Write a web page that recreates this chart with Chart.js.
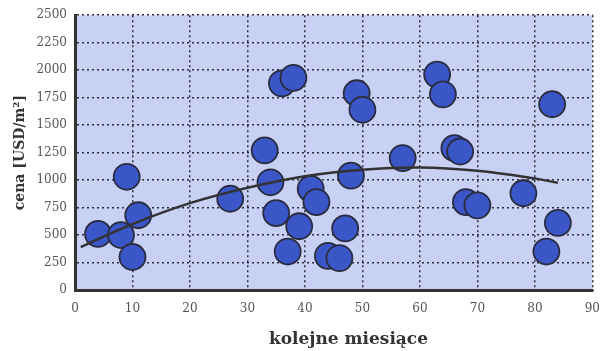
<!DOCTYPE html>
<html>
<head>
<meta charset="utf-8">
<script src="https://cdn.jsdelivr.net/npm/chart.js@4"></script>
<style>
  body { margin: 0; background: #ffffff; }
</style>
</head>
<body>
<canvas id="price-chart" width="612" height="351"></canvas>
<script>
// months and prices of the scattered observations
const months = [4, 8, 9, 10, 11, 27, 33, 34, 35, 36, 37, 38, 39, 41, 42, 44, 46, 47, 48, 49, 50, 57, 63, 64, 66, 67, 68, 70, 78, 82, 83, 84];
const prices = [510, 500, 1030, 300, 680, 830, 1270, 980, 700, 1880, 350, 1930, 580, 920, 800, 310, 290, 560, 1040, 1790, 1640, 1200, 1960, 1780, 1290, 1260, 800, 770, 880, 350, 1690, 610];

// trend curve
const trendMonths = [1, 10, 20, 30, 40, 50, 60, 70, 80, 84];
const trendPrices = [390, 600, 790, 930, 1035, 1095, 1115, 1085, 1015, 975];

const xLabel = "kolejne miesiące";
const yLabel = "cena [USD/m²]";

const toPoints = (xs, ys) => xs.map((x, i) => ({ x: x, y: ys[i] }));

//fill the plot area
const plotBackground = {
    id: "plotBackground",
    beforeDraw: (chart) => {
        const { ctx, chartArea } = chart;
        ctx.save();
        ctx.fillStyle = "#c8d0f4";
        ctx.fillRect(chartArea.left, chartArea.top, chartArea.right - chartArea.left, chartArea.bottom - chartArea.top);
        ctx.restore();
    },
};

const tickFont = { family: "DejaVu Serif", size: 12 };
const gridStyle = {
    color: "#2e2e3a",
    lineWidth: 1.5,
    drawTicks: false,
};
//plain numbers, no thousands separator
const plainTick = (value) => String(value);

const ctx = document.getElementById("price-chart").getContext("2d");
new Chart(ctx, {
    type: "scatter",
    data: {
        datasets: [
            {
                label: "trend",
                data: toPoints(trendMonths, trendPrices),
                showLine: true,
                pointRadius: 0,
                borderColor: "#333333",
                borderWidth: 2.5,
                tension: 0.4,
                order: 0,
            },
            {
                label: "cena",
                data: toPoints(months, prices),
                pointRadius: 13,
                pointBackgroundColor: "#3b56c6",
                pointBorderColor: "#2a2c40",
                pointBorderWidth: 1.8,
                order: 1,
            },
        ],
    },
    options: {
        responsive: false,
        animation: false,
        layout: { padding: { left: 0, right: 8, top: 15, bottom: 0 } },
        plugins: {
            legend: { display: false },
            tooltip: { enabled: false },
        },
        scales: {
            x: {
                type: "linear",
                min: 0,
                max: 90,
                ticks: { stepSize: 10, padding: 12, color: "#555555", font: tickFont, callback: plainTick },
                grid: gridStyle,
                border: { display: true, color: "#333333", width: 3, dash: [2, 3] },
                title: {
                    display: true,
                    text: "     " + xLabel,
                    color: "#333333",
                    font: { family: "DejaVu Serif", size: 17, weight: "bold" },
                    padding: { top: 0, bottom: 1 },
                },
                afterFit: (scale) => { scale.height = 61; },
            },
            y: {
                min: 0,
                max: 2500,
                ticks: { stepSize: 250, padding: 8, color: "#555555", font: tickFont, callback: plainTick },
                grid: gridStyle,
                border: { display: true, color: "#333333", width: 3, dash: [2, 3] },
                title: {
                    display: true,
                    text: yLabel,
                    color: "#333333",
                    font: { family: "DejaVu Serif", size: 14, weight: "bold" },
                    padding: { top: 12, bottom: 0 },
                },
                afterFit: (scale) => { scale.width = 75; },
            },
        },
    },
    plugins: [plotBackground],
});
</script>
</body>
</html>
